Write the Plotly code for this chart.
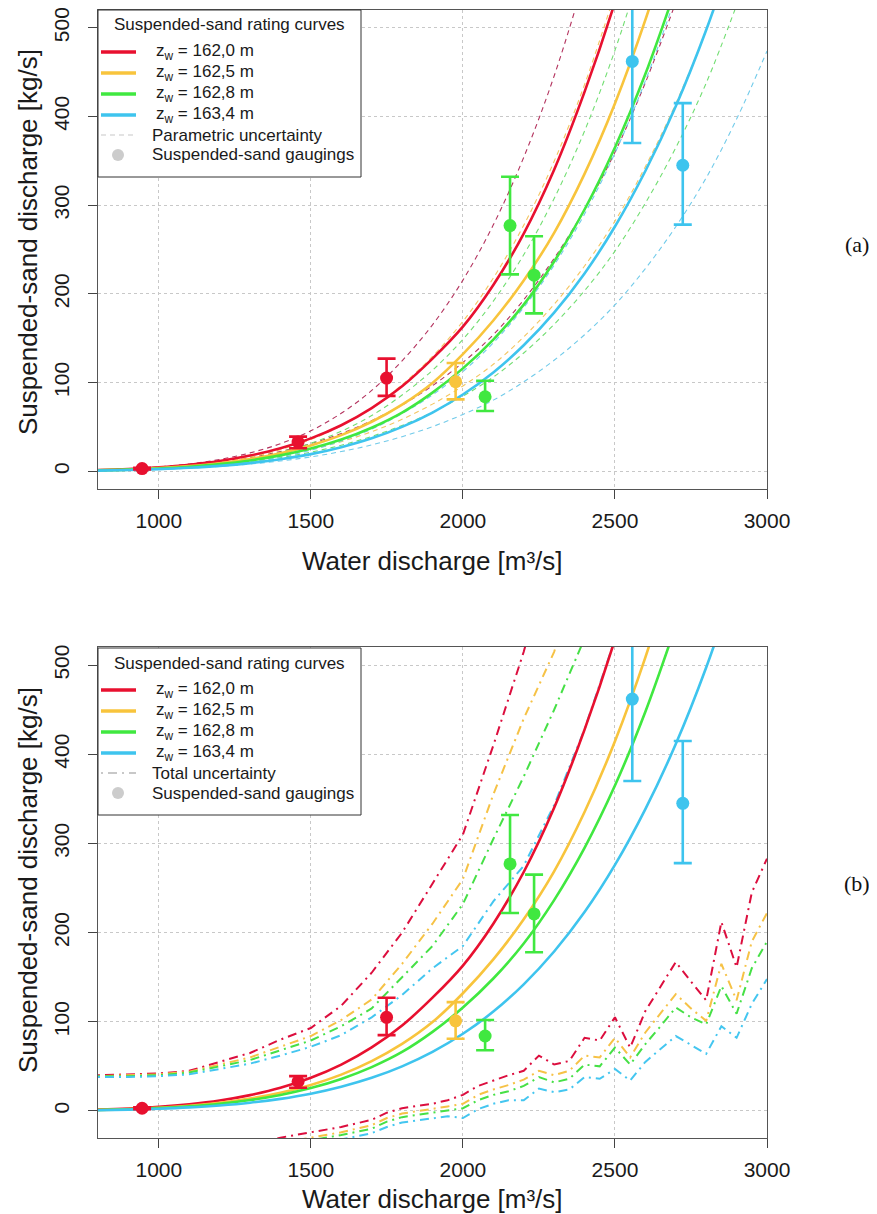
import plotly.graph_objects as go

# ---------------- data ----------------
Q_GRID = [800, 900, 1000, 1100, 1200, 1300, 1400, 1500, 1600, 1700, 1800,
          1900, 2000, 2100, 2200, 2300, 2400, 2500, 2600, 2700, 2800, 2900, 3000]

series_names = ["162,0", "162,5", "162,8", "163,4"]

# rating curves (solid), suspended-sand discharge [kg/s]
red_curve = [1.4, 2.6, 4.5, 7.4, 11.6, 17.7, 25.9, 37.1, 51.9, 71.2, 95.8, 127.0, 163.0,
             210.0, 268.0, 340.0, 427.7, 529.0, 649.0]
orange_curve = [1.1, 2.0, 3.5, 5.8, 9.1, 13.8, 20.3, 29.1, 40.7, 55.8, 75.1, 99.6, 132.0,
                170.0, 215.0, 268.8, 335.3, 414.7, 508.8, 618.6]
green_curve = [1.0, 1.8, 3.1, 5.1, 8.0, 12.2, 17.9, 25.6, 35.8, 49.1, 66.1, 88.6, 116.0,
               148.5, 187.8, 236.5, 295.1, 365.0, 447.8, 544.4]
blue_curve = [0.7, 1.4, 2.4, 3.9, 6.1, 9.2, 13.5, 19.3, 27.1, 37.1, 50.0, 66.2, 86.5,
              111.4, 142.0, 178.8, 223.0, 275.9, 338.5, 411.5, 497.4, 597.1]

# parametric uncertainty (panel a, dashed)
red_par_hi = [1.5, 2.8, 4.9, 8.2, 13.3, 20.7, 31.1, 45.6, 65.4, 91.1, 124.5, 165.1, 215.5,
              277.8, 353.9, 445.6, 556.0]
red_par_lo = [1.3, 2.4, 4.1, 6.7, 10.4, 15.4, 22.3, 31.2, 42.6, 57.0, 74.7, 96.5, 122.7,
              153.9, 193.3, 240.0, 295.1, 359.7, 438.1, 528.6]
orange_par_hi = [1.2, 2.1, 3.8, 6.4, 10.4, 16.1, 24.4, 35.8, 51.3, 71.4, 97.6, 129.5, 169.0,
                 217.8, 277.4, 349.4, 435.9, 539.1]
orange_par_lo = [1.0, 1.9, 3.2, 5.2, 8.1, 12.1, 17.5, 24.4, 33.4, 44.6, 58.6, 75.7, 96.2,
                 120.6, 151.5, 188.2, 231.4, 282.0, 343.4, 414.5, 497.4, 597.0]
green_par_hi = [1.1, 1.9, 3.4, 5.7, 9.1, 14.3, 21.5, 31.5, 45.1, 62.8, 85.9, 113.9, 148.7,
                191.8, 244.1, 307.5, 383.6, 474.5, 582.1]
green_par_lo = [1.0, 1.7, 2.9, 4.6, 7.1, 10.7, 15.4, 21.5, 29.4, 39.3, 51.6, 66.6, 84.7,
                106.2, 133.3, 165.6, 203.6, 248.2, 302.3, 364.7, 437.6, 525.4]
blue_par_hi = [0.7, 1.5, 2.6, 4.3, 7.0, 10.8, 16.2, 23.7, 34.1, 47.5, 65.0, 86.1, 112.5,
               144.8, 184.6, 232.4, 289.9, 358.7, 440.1, 535.0]
blue_par_lo = [0.7, 1.3, 2.2, 3.5, 5.4, 8.1, 11.6, 16.2, 22.2, 29.7, 39.0, 50.3, 64.0,
               80.2, 100.8, 125.2, 153.9, 187.6, 228.5, 275.7, 330.8, 397.0, 473.7]

# total uncertainty (panel b, dash-dot), upper bounds
Q_TOT_HI = [800, 900, 1000, 1100, 1200, 1300, 1400, 1500, 1600, 1700, 1800,
            1900, 2000, 2100, 2200, 2300, 2400, 2500]
red_tot_hi = [40, 41, 42, 45, 55, 65, 80, 93, 118, 155, 200, 255, 310, 410, 515, 640]
orange_tot_hi = [39, 40, 41, 44, 52, 60, 72, 84, 102, 125, 165, 210, 260, 355, 440, 515, 620]
green_tot_hi = [39, 39, 40, 43, 50, 57, 68, 79, 95, 115, 150, 185, 232, 305, 375, 450, 530]
blue_tot_hi = [38, 38, 39, 41, 47, 53, 62, 72, 85, 105, 130, 160, 185, 235, 275, 343, 428, 529]

# total uncertainty, lower bounds
Q_TOT_LO = [1300, 1400, 1500, 1600, 1700, 1750, 1800, 1900, 1950, 2000, 2050, 2100, 2150,
            2200, 2250, 2300, 2350, 2400, 2450, 2500, 2550, 2600, 2650, 2700, 2750, 2800,
            2850, 2900, 2950, 3000]
red_tot_lo = [-38, -30, -24, -18, -10, -2, 3, 8, 12, 18, 28, 34, 40, 45, 62, 52, 56, 82, 79,
              105, 71, 112, 140, 167, 145, 124, 212, 161, 245, 283]
orange_tot_lo = [-45, -36, -30, -24, -16, -8, -3, 2, 5, 8, 18, 24, 29, 35, 45, 40, 45, 62, 60,
                 82, 60, 88, 110, 131, 115, 101, 165, 124, 190, 222]
green_tot_lo = [-50, -40, -33, -27, -20, -12, -7, -2, 1, 3, 12, 18, 22, 28, 38, 32, 36, 52, 50,
                71, 52, 75, 95, 116, 105, 97, 140, 109, 160, 190]
blue_tot_lo = [-55, -45, -38, -32, -25, -18, -13, -8, -6, -8, 2, 8, 12, 12, 25, 21, 24, 38, 36,
               47, 34, 55, 70, 84, 74, 64, 95, 82, 120, 148]

# suspended-sand gaugings
gauge_q = [945, 1458, 1749, 1976, 2073, 2155, 2234, 2557, 2723]
gauge_qs = [3, 33, 105, 101, 84, 277, 221, 462, 345]
gauge_err_up = [1, 6, 22, 21, 18, 55, 44, 95, 70]
gauge_err_lo = [1, 7, 20, 20, 16, 55, 43, 92, 67]
gauge_series = [0, 0, 0, 1, 2, 2, 2, 3, 3]

x_ticks = [1000, 1500, 2000, 2500, 3000]
y_ticks = [0, 100, 200, 300, 400, 500]

# ---------------- styling ----------------
OFF = 8                      # page body margin of the browser
W, H = 877 - OFF, 1214 - OFF
COLORS = ["#E8102F", "#F8C43C", "#40E840", "#3EC4EE"]
PAR_COLORS = ["#B4345F", "#F4C662", "#72DE72", "#72CBEA"]
TOT_COLORS = ["#DC0E3E", "#F6C246", "#46E046", "#44C6F0"]
SANS = "Liberation Sans, Arial, sans-serif"
TXT = "#1A1A1A"


def px(x):
    return (x - OFF) / W


def py(y):
    return 1 - (y - OFF) / H


curves = [red_curve, orange_curve, green_curve, blue_curve]
par_hi = [red_par_hi, orange_par_hi, green_par_hi, blue_par_hi]
par_lo = [red_par_lo, orange_par_lo, green_par_lo, blue_par_lo]
tot_hi = [red_tot_hi, orange_tot_hi, green_tot_hi, blue_tot_hi]
tot_lo = [red_tot_lo, orange_tot_lo, green_tot_lo, blue_tot_lo]

DASHDOT = "2px,5px,9px,5px"

fig = go.Figure()

for panel, (xa, ya) in enumerate([("x", "y"), ("x2", "y2")]):
    for i in range(4):
        if panel == 0:
            for arr in (par_hi[i], par_lo[i]):
                fig.add_trace(go.Scatter(
                    x=Q_GRID[:len(arr)], y=arr, mode="lines", xaxis=xa, yaxis=ya,
                    line=dict(color=PAR_COLORS[i], width=1.1, dash="5px,4px", shape="spline"),
                    showlegend=False, hoverinfo="skip"))
        else:
            fig.add_trace(go.Scatter(
                x=Q_TOT_HI[:len(tot_hi[i])], y=tot_hi[i], mode="lines", xaxis=xa, yaxis=ya,
                line=dict(color=TOT_COLORS[i], width=2, dash=DASHDOT),
                showlegend=False, hoverinfo="skip"))
            fig.add_trace(go.Scatter(
                x=Q_TOT_LO, y=tot_lo[i], mode="lines", xaxis=xa, yaxis=ya,
                line=dict(color=TOT_COLORS[i], width=2, dash=DASHDOT),
                showlegend=False, hoverinfo="skip"))
    for i in range(4):
        fig.add_trace(go.Scatter(
            x=Q_GRID[:len(curves[i])], y=curves[i], mode="lines", xaxis=xa, yaxis=ya,
            line=dict(color=COLORS[i], width=2.6, shape="spline"),
            showlegend=False, hoverinfo="skip"))
    for i in range(4):
        idx = [k for k, s in enumerate(gauge_series) if s == i]
        fig.add_trace(go.Scatter(
            x=[gauge_q[k] for k in idx], y=[gauge_qs[k] for k in idx],
            mode="markers", xaxis=xa, yaxis=ya,
            marker=dict(color=COLORS[i], size=13, line=dict(width=0)),
            error_y=dict(type="data", symmetric=False,
                         array=[gauge_err_up[k] for k in idx],
                         arrayminus=[gauge_err_lo[k] for k in idx],
                         color=COLORS[i], thickness=2.6, width=9),
            showlegend=False, hoverinfo="skip"))

axis_common = dict(
    showline=True, linecolor="#555555", linewidth=1, mirror=True,
    ticks="outside", ticklen=9, tickcolor="#444444", tickwidth=1,
    showgrid=True, gridcolor="#C8C8C8", griddash="dot", gridwidth=1,
    zeroline=False, automargin=False, ticklabeloverflow="allow",
    tickfont=dict(family=SANS, size=21, color=TXT),
)

XDOM = [px(98), px(767)]
fig.update_layout(
    width=W, height=H, margin=dict(l=0, r=0, t=0, b=0),
    paper_bgcolor="white", plot_bgcolor="white", showlegend=False,
    xaxis=dict(domain=XDOM, range=[800, 3000], tickvals=x_ticks, anchor="y",
               ticklabelstandoff=4, **axis_common),
    yaxis=dict(domain=[py(489), py(10)], range=[-20, 520], tickvals=y_ticks, anchor="x",
               tickangle=-90, ticklabelstandoff=11, **axis_common),
    xaxis2=dict(domain=XDOM, range=[800, 3000], tickvals=x_ticks, anchor="y2",
                ticklabelstandoff=4, **axis_common),
    yaxis2=dict(domain=[py(1138), py(647)], range=[-30.4, 520.4], tickvals=y_ticks,
                anchor="x2", tickangle=-90, ticklabelstandoff=11, **axis_common),
)

shapes = []
annotations = []


def note(x, y, text, size, family=SANS, xanchor="center", angle=0, color=TXT):
    annotations.append(dict(x=px(x), y=py(y), xref="paper", yref="paper", text=text,
                            textangle=angle, showarrow=False, xanchor=xanchor,
                            yanchor="middle",
                            font=dict(family=family, size=size, color=color)))


for dy, lab in [(0, "(a)"), (638, "(b)")]:
    note(28, 242 + dy, "Suspended-sand discharge [kg/s]", 26, angle=-90)
    note(432, 561 + dy, "Water discharge [m³/s]", 26)
    note(857, 245 + dy, lab, 22, family="Liberation Serif, serif", color="#111111")

for dy, unc_label, dashed in [(0, "Parametric uncertainty", True),
                              (638, "Total uncertainty", False)]:
    shapes.append(dict(type="rect", xref="paper", yref="paper",
                       x0=px(98), x1=px(361), y0=py(177 + dy), y1=py(10 + dy),
                       line=dict(color="#333333", width=1), fillcolor="white", layer="above"))
    note(229, 25 + dy, "Suspended-sand rating curves", 17)
    rows = [52, 73, 94, 115, 135, 155]
    for i in range(4):
        shapes.append(dict(type="line", xref="paper", yref="paper",
                           x0=px(101), x1=px(136), y0=py(rows[i] + dy), y1=py(rows[i] + dy),
                           line=dict(color=COLORS[i], width=3.5), layer="above"))
        note(154, rows[i] + dy, "z<sub>w</sub> = " + series_names[i] + " m", 17, xanchor="left")
    shapes.append(dict(type="line", xref="paper", yref="paper",
                       x0=px(101), x1=px(136), y0=py(rows[4] + dy), y1=py(rows[4] + dy),
                       line=dict(color="#C8C8C8", width=1.2 if dashed else 2,
                                 dash="5px,4px" if dashed else DASHDOT),
                       layer="above"))
    note(150, rows[4] + dy, unc_label, 17, xanchor="left")
    shapes.append(dict(type="circle", xref="paper", yref="paper",
                       x0=px(112), x1=px(124), y0=py(rows[5] + dy + 6), y1=py(rows[5] + dy - 6),
                       line=dict(width=0), fillcolor="#CCCCCC", layer="above"))
    note(150, rows[5] + dy, "Suspended-sand gaugings", 17, xanchor="left")

fig.update_layout(shapes=shapes, annotations=annotations)
fig.write_html("out.html")
